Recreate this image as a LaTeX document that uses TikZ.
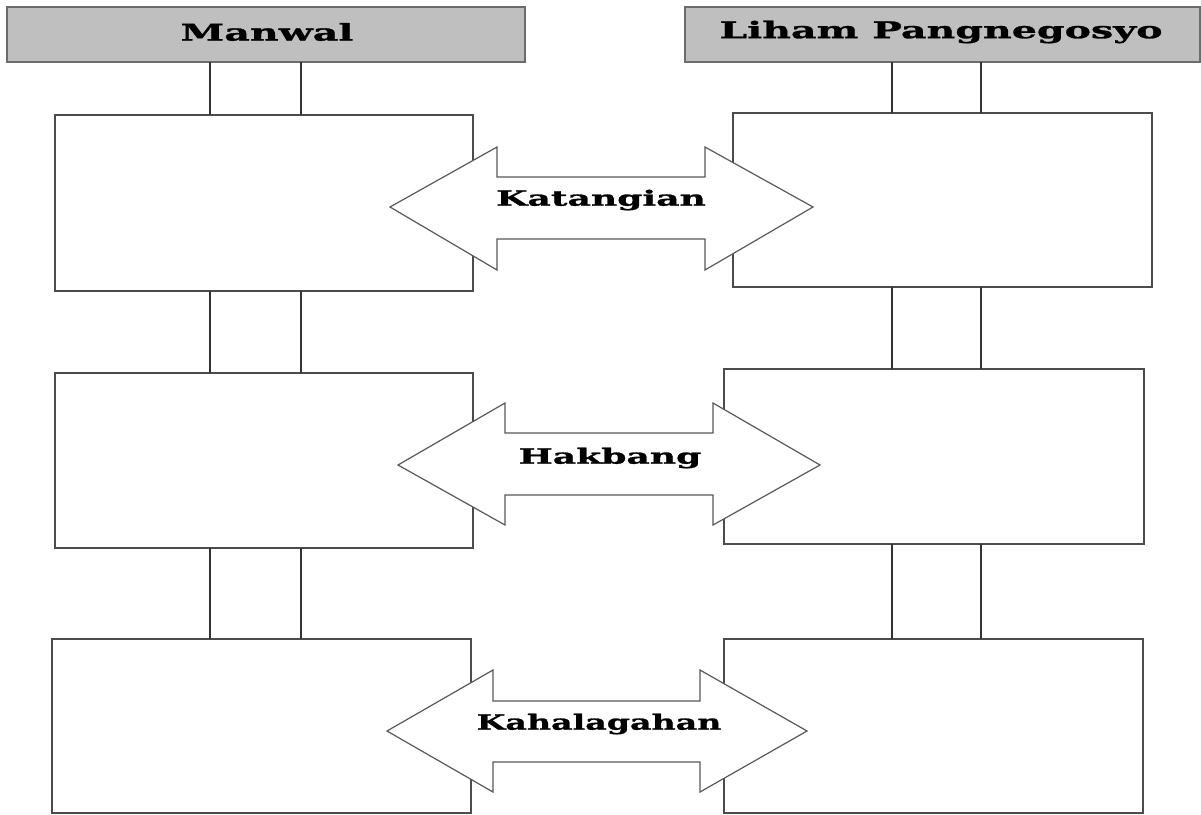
\documentclass[tikz,border=0pt]{standalone}
\usepackage{fontspec}
\newfontfamily\lblfont[FakeStretch=1.72, BoldFeatures={FakeBold=1.2}]{DejaVu Serif}
\begin{document}
\begin{tikzpicture}[x=1pt,y=-1pt,
  hdr/.style={draw=gray!85!black, fill=gray!50, line width=1.4pt},
  hdrtext/.style={font=\lblfont\bfseries\fontsize{23}{26}\selectfont, inner sep=0pt},
  card/.style={draw=black!70, fill=white, line width=1.6pt},
  link/.style={draw=black!80, line width=1.8pt},
  dbl/.style={draw=black!65, fill=white, line width=1.2pt},
  lbl/.style={font=\lblfont\bfseries\fontsize{21}{24}\selectfont, inner sep=0pt}]
\useasboundingbox (0,0) rectangle (1201,814);
% headers
\path[hdr] (7,7) rectangle (525,62);
\node[hdrtext] (hL) at (267,32) {Manwal};
\path[hdr] (685,7) rectangle (1200,62);
\node[hdrtext] (hR) at (941,32) {Liham Pangnegosyo};
% boxes
\path[card] (55,115) rectangle (473,291);
\path[card] (733,113) rectangle (1152,287);
\path[card] (55,373) rectangle (473,548);
\path[card] (724,369) rectangle (1144,544);
\path[card] (52,639) rectangle (471,813);
\path[card] (724,639) rectangle (1143,813);
% connector lines
\foreach \x in {210,301}{
  \draw[link] (\x,62) -- (\x,115);
  \draw[link] (\x,291) -- (\x,373);
  \draw[link] (\x,548) -- (\x,639);
}
\foreach \x in {892,981}{
  \draw[link] (\x,62) -- (\x,113);
  \draw[link] (\x,287) -- (\x,369);
  \draw[link] (\x,544) -- (\x,639);
}
% double arrows
\path[dbl] (390,207) -- (497,147) -- (497,177) -- (705,177) -- (705,147) -- (813,207)
  -- (705,270) -- (705,239) -- (497,239) -- (497,270) -- cycle;
\node[lbl] (a1) at (601,200) {Katangian};
\path[dbl] (398,465) -- (505,403) -- (505,433) -- (713,433) -- (713,403) -- (820,465)
  -- (713,525) -- (713,495) -- (505,495) -- (505,525) -- cycle;
\node[lbl] (a2) at (610,458) {Hakbang};
\path[dbl] (387,731) -- (493,670) -- (493,701) -- (700,701) -- (700,670) -- (807,731)
  -- (700,792) -- (700,762) -- (493,762) -- (493,792) -- cycle;
\node[lbl] (a3) at (599,724) {\scalebox{0.92}[1]{Kahalagahan}};
\end{tikzpicture}
\end{document}
